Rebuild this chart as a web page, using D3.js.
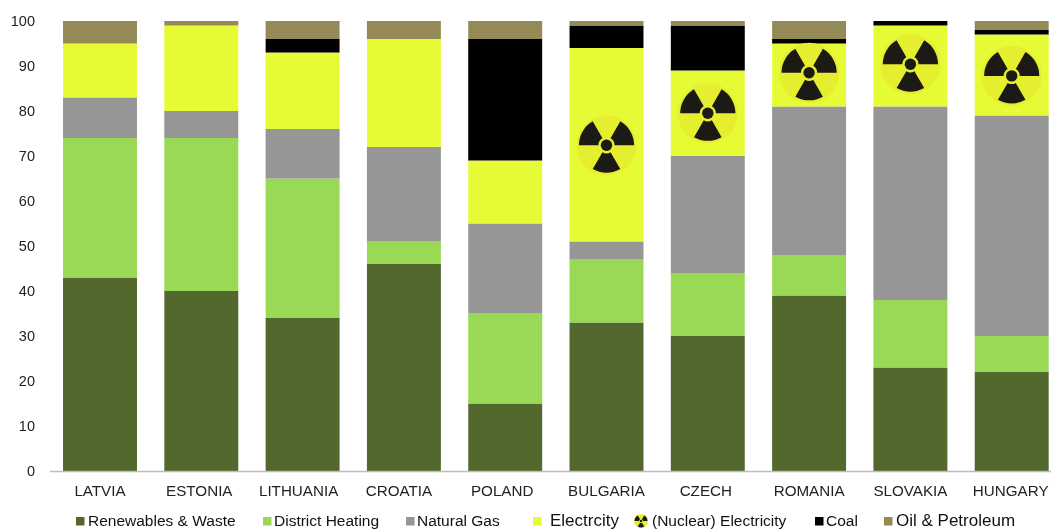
<!DOCTYPE html>
<html>
<head>
<meta charset="utf-8">
<script src="https://cdn.jsdelivr.net/npm/d3@7"></script>
<style>
html, body { margin: 0; padding: 0; background: #fff; overflow: hidden; }
svg { display: block; font-family: "Liberation Sans", Arial, sans-serif; filter: blur(0.5px); }
</style>
</head>
<body>
<svg id="chart" width="1051" height="530"></svg>
<script>
// values, percent of heat supply
var countries = ["LATVIA", "ESTONIA", "LITHUANIA", "CROATIA", "POLAND", "BULGARIA", "CZECH", "ROMANIA", "SLOVAKIA", "HUNGARY"];
var seriesNames = ["Renewables & Waste", "District Heating", "Natural Gas", "Electrcity", "Coal", "Oil & Petroleum"];
var renewables = [43, 40, 34, 46, 15, 33, 30, 39, 23, 22];
var districtHeating = [31, 34, 31, 5, 20, 14, 14, 9, 15, 8];
var naturalGas = [9, 6, 11, 21, 20, 4, 26, 33, 43, 49];
var electricity = [12, 19, 17, 24, 14, 43, 19, 14, 18, 18];
var coal = [0, 0, 3, 0, 27, 5, 10, 1, 1, 1];
var oil = [5, 1, 4, 4, 4, 1, 1, 4, 0, 2];
var seriesColors = ["#53682d", "#9ad955", "#969696", "#e6fb35", "#000000", "#948a58"];
var yTicks = [0, 10, 20, 30, 40, 50, 60, 70, 80, 90, 100];

// countries that carry the nuclear sign and the level it sits at
var nuclearCountries = ["BULGARIA", "CZECH", "ROMANIA", "SLOVAKIA", "HUNGARY"];
var nuclearLevels = [72.4, 79.5, 88.5, 90.4, 87.8];

var svg = d3.select("#chart");

var x = d3.scaleBand().domain(countries).range([49.35, 1062.35]).paddingInner(0.27).paddingOuter(0.135);
var y = d3.scaleLinear().domain([0, 100]).range([471, 21]);

var allSeries = [renewables, districtHeating, naturalGas, electricity, coal, oil];
var rows = countries.map(function(c, i) {
    var row = { country: c };
    seriesNames.forEach(function(name, s) { row[name] = allSeries[s][i]; });
    return row;
});
var stacked = d3.stack().keys(seriesNames)(rows);

svg.append("g").selectAll("g")
    .data(stacked)
    .join("g")
    .attr("fill", function(d, i) { return seriesColors[i]; })
    .selectAll("rect")
    .data(function(d) { return d; })
    .join("rect")
    .attr("x", function(d) { return x(d.data.country); })
    .attr("width", x.bandwidth())
    .attr("y", function(d) { return y(d[1]); })
    .attr("height", function(d) { return y(d[0]) - y(d[1]); });

// labels in the original are not quite centred under the bars
var labelNudge = [0, -2, -4, -5, -3, 0, -2, 0, 0, -1];

var xAxis = svg.append("g")
    .attr("transform", "translate(0,471)")
    .call(d3.axisBottom(x).tickSize(0).tickPadding(14));
xAxis.select(".domain").attr("stroke", "#bdbdbd").attr("stroke-width", 1.5);
xAxis.selectAll("text")
    .attr("font-size", 15.2)
    .attr("fill", "#222")
    .attr("dx", function(d, i) { return labelNudge[i]; });

var yAxis = svg.append("g")
    .attr("transform", "translate(35,0)")
    .call(d3.axisLeft(y).tickValues(yTicks).tickSize(0).tickPadding(0));
yAxis.select(".domain").remove();
yAxis.selectAll("text").attr("font-size", 14.5).attr("fill", "#222");

function drawNuclear(g, r, discColor) {
    var arc = d3.arc().innerRadius(r * 0.27).outerRadius(r * 0.92);
    g.append("circle").attr("r", r).attr("fill", discColor);
    [-60, 60, 180].forEach(function(a) {
        g.append("path")
            .attr("fill", "#1c1a14")
            .attr("d", arc({ startAngle: (a - 30) * Math.PI / 180, endAngle: (a + 30) * Math.PI / 180 }));
    });
    g.append("circle").attr("r", r * 0.24).attr("fill", discColor);
    g.append("circle").attr("r", r * 0.19).attr("fill", "#1c1a14");
}

nuclearCountries.forEach(function(c, i) {
    var g = svg.append("g")
        .attr("class", "nuclear")
        .attr("transform", "translate(" + (x(c) + x.bandwidth() / 2) + "," + y(nuclearLevels[i]) + ")");
    drawNuclear(g, 30, "#e6ee30");
});

// legend is hand placed in the original so the items are not evenly spaced
var legendItems = [
    { label: "Renewables & Waste", color: 0, sx: 76, tx: 88, fs: 15.5 },
    { label: "District Heating", color: 1, sx: 263, tx: 274, fs: 15.5 },
    { label: "Natural Gas", color: 2, sx: 406, tx: 417, fs: 15.5 },
    { label: "Electrcity", color: 3, sx: 533, tx: 550, fs: 17 },
    { label: "Coal", color: 4, sx: 815, tx: 826, fs: 15.5 },
    { label: "Oil & Petroleum", color: 5, sx: 884, tx: 896, fs: 17 }
];
var legend = svg.append("g");
legendItems.forEach(function(d) {
    legend.append("rect").attr("x", d.sx).attr("y", 517).attr("width", 8.5).attr("height", 8.5).attr("fill", seriesColors[d.color]);
    legend.append("text").attr("x", d.tx).attr("y", 526).attr("font-size", d.fs).attr("fill", "#111").text(d.label);
});
var nuclearKey = legend.append("g").attr("transform", "translate(641,521)");
drawNuclear(nuclearKey, 7, "#e6ee30");
legend.append("text").attr("x", 652).attr("y", 526).attr("font-size", 15.5).attr("fill", "#111").text("(Nuclear) Electricity");
</script>
</body>
</html>
